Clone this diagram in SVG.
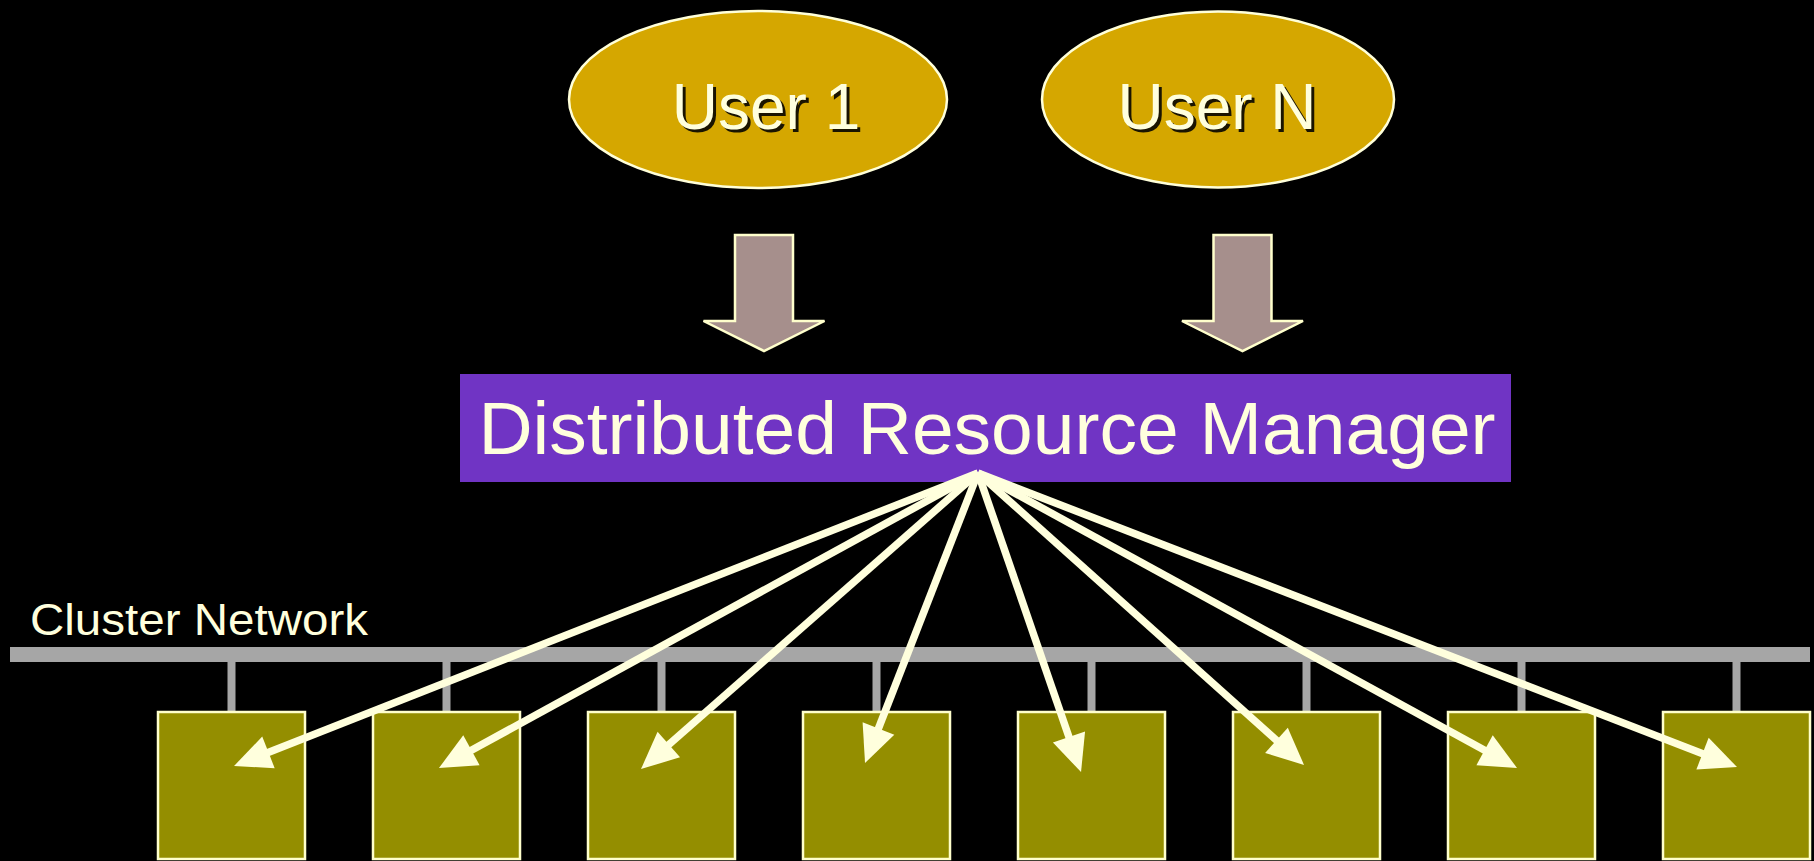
<svg xmlns="http://www.w3.org/2000/svg" width="1814" height="861" viewBox="0 0 1814 861">
  <style>
    .user { fill: #D5A700; stroke: #FFFFD9; stroke-width: 2.5; }
    .user-label { font-family: "Liberation Sans", Arial, sans-serif; font-size: 64px; fill: #FFFFDD; text-anchor: middle; }
    .user-shadow { font-family: "Liberation Sans", Arial, sans-serif; font-size: 64px; fill: #1A1400; text-anchor: middle; }
    .flow { fill: #A68F8C; stroke: #FFFFCC; stroke-width: 2.5; stroke-linejoin: miter; }
    .manager { fill: #7034C4; }
    .manager-label { font-family: "Liberation Sans", Arial, sans-serif; font-size: 75px; fill: #FFFFDD; text-anchor: middle; }
    .net { fill: #A6A6A6; }
    .net-label { font-family: "Liberation Sans", Arial, sans-serif; font-size: 45px; fill: #FFFFDD; }
    .node { fill: #948E00; stroke: #FFFFCC; stroke-width: 2.5; }
    .dispatch { stroke: #FFFFDD; stroke-width: 7.5; fill: none; marker-end: url(#head); }
  </style>
  <defs>
    <marker id="head" markerUnits="userSpaceOnUse" markerWidth="37" markerHeight="34" refX="12" refY="17" orient="auto" overflow="visible">
      <path d="M0,0 L37,17 L0,34 Z" fill="#FFFFDD"/>
    </marker>
  </defs>

  <rect width="1814" height="861" fill="#000000"/>

  <!-- users -->
  <g id="user-1">
    <ellipse class="user" cx="758" cy="99.5" rx="189" ry="88.5"/>
    <text class="user-shadow" x="769" y="132">User 1</text>
    <text class="user-label" x="766" y="129">User 1</text>
  </g>
  <g id="user-n">
    <ellipse class="user" cx="1218" cy="99.5" rx="176" ry="88"/>
    <text class="user-shadow" x="1220" y="132">User N</text>
    <text class="user-label" x="1217" y="129">User N</text>
  </g>

  <!-- request flow arrows -->
  <g id="flow-1">
    <path class="flow" d="M735,235 L793,235 L793,321 L824.5,321 L764,351 L703.5,321 L735,321 Z"/>
  </g>
  <g id="flow-n">
    <path class="flow" d="M1213.5,235 L1271.5,235 L1271.5,321 L1303,321 L1242.5,351 L1182,321 L1213.5,321 Z"/>
  </g>

  <!-- resource manager -->
  <g id="manager">
    <rect class="manager" x="460" y="374" width="1051" height="108"/>
    <text class="manager-label" x="987" y="454">Distributed Resource Manager</text>
  </g>

  <!-- cluster network bus and drops -->
  <g id="network">
    <rect class="net" x="10" y="647" width="1800" height="15"/>
    <rect class="net" x="227.5" y="662" width="8" height="50"/>
    <rect class="net" x="442.5" y="662" width="8" height="50"/>
    <rect class="net" x="657.5" y="662" width="8" height="50"/>
    <rect class="net" x="872.5" y="662" width="8" height="50"/>
    <rect class="net" x="1087.5" y="662" width="8" height="50"/>
    <rect class="net" x="1302.5" y="662" width="8" height="50"/>
    <rect class="net" x="1517.5" y="662" width="8" height="50"/>
    <rect class="net" x="1732.5" y="662" width="8" height="50"/>
    <text class="net-label" x="30" y="635" textLength="338" lengthAdjust="spacingAndGlyphs">Cluster Network</text>
  </g>

  <!-- compute nodes -->
  <g id="node-1"><rect class="node" x="158" y="712" width="147" height="147"/></g>
  <g id="node-2"><rect class="node" x="373" y="712" width="147" height="147"/></g>
  <g id="node-3"><rect class="node" x="588" y="712" width="147" height="147"/></g>
  <g id="node-4"><rect class="node" x="803" y="712" width="147" height="147"/></g>
  <g id="node-5"><rect class="node" x="1018" y="712" width="147" height="147"/></g>
  <g id="node-6"><rect class="node" x="1233" y="712" width="147" height="147"/></g>
  <g id="node-7"><rect class="node" x="1448" y="712" width="147" height="147"/></g>
  <g id="node-8"><rect class="node" x="1663" y="712" width="147" height="147"/></g>

  <!-- dispatch connectors from the manager to each node -->
  <g id="connectors">
    <line class="dispatch" x1="978" y1="473" x2="257.3" y2="756.8"/>
    <line class="dispatch" x1="978" y1="473" x2="460.9" y2="756.0"/>
    <line class="dispatch" x1="978" y1="473" x2="659.8" y2="752.5"/>
    <line class="dispatch" x1="978" y1="473" x2="874.1" y2="739.7"/>
    <line class="dispatch" x1="978" y1="473" x2="1072.9" y2="748.4"/>
    <line class="dispatch" x1="978" y1="473" x2="1285.4" y2="748.3"/>
    <line class="dispatch" x1="978" y1="473" x2="1495.1" y2="756.0"/>
    <line class="dispatch" x1="978" y1="473" x2="1713.7" y2="758.0"/>
  </g>
</svg>
